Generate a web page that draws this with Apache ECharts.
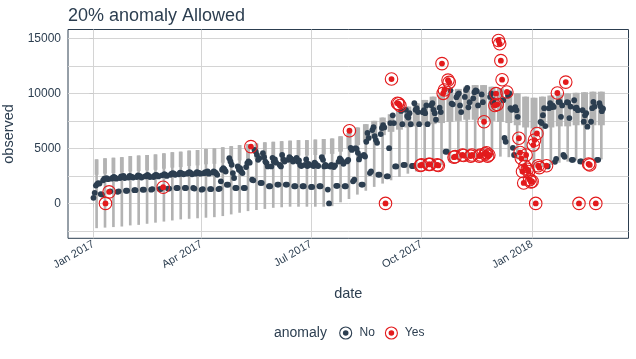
<!DOCTYPE html>
<html><head><meta charset="utf-8">
<script src="https://cdn.jsdelivr.net/npm/echarts@6/dist/echarts.min.js"></script>
<style>html,body{margin:0;padding:0;background:#fff}#c{width:636px;height:359px}</style>
</head><body><div id="c"></div>
<script>
// ---- data (daily observations, one row per week, Sun..Sat, starting 2017-01-01) ----
const startDate = '2017-01-01';
const observedByWeek = [
 [510, 960, 1620, 1760, 1850, 1800, 850],
 [800, 2100, 2250, 0, 2300, 2200, 1050],
 [1100, 2250, 2350, 2400, 2350, 2250, 1050],
 [1100, 2300, 2450, 2400, 2500, 2300, 1150],
 [1150, 2350, 2500, 2450, 2400, 2350, 1200],
 [1200, 2400, 2550, 2500, 2450, 2350, 1250],
 [1250, 2450, 2500, 2600, 2500, 2400, 1250],
 [1300, 2400, 2550, 2600, 2550, 2450, 1300],
 [1300, 2550, 1470, 2650, 2600, 2500, 1350],
 [1350, 2600, 2700, 2750, 2700, 2600, 1400],
 [1400, 2650, 2800, 2750, 2700, 2650, 1400],
 [1400, 2700, 2800, 2850, 2750, 2650, 1400],
 [1350, 2700, 2850, 2800, 2750, 2700, 1250],
 [1300, 2750, 2850, 2800, 2900, 2700, 1300],
 [1300, 2800, 2900, 2850, 2750, 2600, 1300],
 [1350, 2010, 3060, 3210, 3100, 2900, 1700],
 [1700, 4110, 3810, 3510, 2760, 2310, 1400],
 [1400, 3360, 3060, 3210, 2910, 2760, 1400],
 [1400, 3300, 3660, 3810, 3700, 5160, 2160],
 [2100, 4860, 4710, 4410, 3960, 4110, 1860],
 [1860, 4560, 4200, 3800, 3660, 3360, 1560],
 [1560, 3360, 4140, 3800, 4000, 3700, 1710],
 [1710, 3500, 3360, 4400, 4000, 3800, 1710],
 [1710, 3960, 4200, 4100, 4000, 3800, 1560],
 [1560, 4140, 3800, 3900, 3500, 3400, 1560],
 [1560, 3500, 4000, 3400, 3600, 3500, 1500],
 [1500, 3400, 3700, 3600, 3450, 3400, 1560],
 [1560, 4200, 3960, 3360, 3500, 3400, 1260],
 [0, 3350, 3500, 3400, 3300, 3450, 1600],
 [1600, 3800, 4100, 3950, 3800, 3600, 1560],
 [1560, 3810, 3950, 6600, 5040, 4860, 2010],
 [2160, 5020, 4950, 4600, 4000, 4300, 1710],
 [1710, 4400, 4260, 5600, 6400, 5950, 2760],
 [2910, 6660, 6930, 6100, 5750, 5500, 2610],
 [2610, 6300, 6850, 7110, 6900, 0, 2460],
 [2460, 5020, 7300, 11300, 8000, 7300, 3360],
 [3360, 9100, 9050, 8900, 8400, 7200, 3500],
 [3500, 8500, 7950, 7800, 8200, 7200, 3400],
 [3400, 9100, 8500, 8650, 8300, 7200, 3450],
 [3500, 8290, 8470, 8200, 8900, 7200, 3550],
 [3550, 8920, 9100, 8500, 8200, 7600, 3500],
 [3450, 8700, 8300, 12700, 10000, 10300, 4700],
 [4700, 11200, 11000, 10270, 9070, 9000, 4200],
 [4250, 9650, 9850, 10000, 8900, 8300, 4400],
 [4350, 9670, 10300, 10500, 8730, 9200, 4300],
 [4400, 9550, 10100, 10270, 10200, 8900, 4300],
 [4400, 9900, 9200, 7420, 4500, 4600, 4300],
 [4400, 9670, 10000, 9200, 9370, 8900, 9970],
 [9000, 14800, 14500, 12970, 11240, 9370, 5950],
 [5600, 10120, 9800, 10000, 8650, 8500, 5050],
 [4400, 8750, 8470, 7870, 5920, 4620, 4100],
 [2900, 1860, 3360, 4400, 3100, 2900, 2160],
 [1950, 2000, 5300, 5750, 0, 6350, 3420],
 [3250, 7400, 7300, 8020, 8650, 7030, 3420],
 [3360, 8650, 9100, 8740, 8900, 8770, 3780],
 [4050, 10030, 9220, 9220, 7870, 8900, 4400],
 [4240, 11020, 9200, 9150, 7750, 8800, 3960],
 [3960, 9370, 8650, 8700, 8470, 0, 3810],
 [3810, 8470, 7420, 8000, 8200, 6970, 3580],
 [3500, 7420, 8650, 9220, 8800, 0, 3960],
 [3960, 9100, 8800, 8380, 8600]
];
// day indices (days since 2017-01-01) flagged as anomalies
const anomalyDays = [10, 13, 58, 131, 213, 243, 248, 253, 254, 255, 272, 273, 279, 280, 286,
 287, 290, 291, 292, 295, 296, 300, 301, 307, 308, 314, 315, 321, 322, 325, 326, 327, 328,
 329, 334, 335, 336, 337, 338, 339, 340, 344, 354, 355, 356, 357, 358, 359, 360, 361, 362, 363,
 364, 365, 366, 367, 368, 369, 370, 371, 377, 386, 393, 404, 412, 413, 418];
// recomposed band (weekly): top, shoulder and bottom of the grey ribbon
const bandTop = [4000,4100,4150,4200,4300,4350,4400,4450,4550,4650, 4700,4800,4850,4950,5000,5100,5200,5300,5400,5450,
 5550,5600,5650,5700,5750,5750,5800,5850,5900,6100, 6400,6900,7200,7500,7800,8100,8500,8800,9100,9400,
 9700,9900,10100,10400,10600,10750,10750,10600,10450,10250, 10000,9700,9600,9700,9800,9900,10000,10050,10100,10150, 10150];
const bandShoulder = [2600,2700,2750,2800,2900,2950,3000,3050,3150,3250, 3300,3400,3450,3550,3600,3700,3800,3900,4000,4050,
 4150,4200,4250,4300,4350,4350,4400,4450,4500, 4700,5000,5300,5600,5900,6200,6500,6700,6900,7000,
 7100,7200,7300,7400,7500,7600,7600,7600,7500,7400, 7300,7100,6900,6800,6800,6900,7000,7000,7100,7100, 7100,7100];
const bandBottom = [-2250,-2200,-2150,-2100,-2000,-1950,-1850,-1750,-1650,-1550, -1450,-1400,-1350,-1300,-1250,-1150,-1000,-850,-700,-600,
 -500,-400,-350,-300,-300,-300,-300,-300,-250,100, 400,800,1150,1500,1800,2100,2400,2700,2900,3100,
 3300,3500,3700,3900,4100,4200,4250,4250,4250,4200, 4000,3600,3200,3300,3500,3700,3800,3900,3950,4000, 4000];
const xTickDates = ['2017-01-01','2017-04-01','2017-07-01','2017-10-01','2018-01-01'];
const xTickLabels = ['Jan 2017','Apr 2017','Jul 2017','Oct 2017','Jan 2018'];
const yTicks = [0, 5000, 10000, 15000];
const yGridValues = [-2500, 0, 2500, 5000, 7500, 10000, 12500, 15000];

// ---- build ----
const DAY = 86400000;
const t0 = Date.parse(startDate + 'T00:00:00Z');
const dayOf = s => Math.round((Date.parse(s + 'T00:00:00Z') - t0) / DAY);
const xTickDays = xTickDates.map(dayOf);
const labelByDay = {}; xTickDays.forEach((d, i) => labelByDay[d] = xTickLabels[i]);
const anomSet = new Set(anomalyDays);
const normalPts = [], anomPts = [];
observedByWeek.forEach((row, w) => row.forEach((v, i) => {
  const d = w * 7 + i;
  (anomSet.has(d) ? anomPts : normalPts).push([d, v]);
}));
const bandData = bandTop.map((t, w) => [w * 7 + 2.6, t, bandShoulder[w], bandBottom[w], w]);
const nDays = observedByWeek.reduce((a, r) => a + r.length, 0) - 1;
const pad = nDays * 0.05;

const DARK = '#2c3e50', RED = '#e31a1c', GRID = '#d4d4d4', FONT = 'Liberation Sans, Arial, sans-serif';

function renderBand(params, api) {
  const c = api.value(0), top = api.value(1), sh = api.value(2), bot = api.value(3), w = api.value(4);
  const stem = 1.1;
  const f = Math.max(0, Math.min(1, (w - 26) / 10));
  const half = 1.6 + 1.3 * f;
  const a = api.coord([c - stem, top]), b = api.coord([c + stem, bot]);
  const d = api.coord([c - half, top]), e = api.coord([c + half, sh]);
  return { type: 'group', children: [
    { type: 'rect', shape: { x: a[0], y: a[1], width: b[0] - a[0], height: b[1] - a[1] }, style: { fill: '#b3b3b3' } },
    { type: 'rect', shape: { x: d[0], y: d[1], width: e[0] - d[0], height: e[1] - d[1] }, style: { fill: '#b3b3b3' } }
  ]};
}

const chart = echarts.init(document.getElementById('c'), null, { renderer: 'canvas' });
chart.setOption({
  animation: false,
  backgroundColor: '#fff',
  textStyle: { fontFamily: FONT },
  grid: { left: 68, right: 7.5, top: 29.5, bottom: 120.7, show: true, borderColor: DARK, borderWidth: 1,
    backgroundColor: 'transparent', containLabel: false, outerBoundsMode: 'none' },
  xAxis: {
    type: 'value', min: -pad, max: nDays + pad,
    name: 'date', nameLocation: 'middle', nameGap: 48,
    nameTextStyle: { color: DARK, fontSize: 14.5, fontFamily: FONT },
    axisLine: { show: false },
    splitLine: { show: false },
    axisTick: { show: true, customValues: xTickDays, length: 4, lineStyle: { color: '#c8c8c8' } },
    axisLabel: { customValues: xTickDays, rotate: 30, margin: 5, color: DARK, fontSize: 11, fontFamily: FONT,
      formatter: v => labelByDay[Math.round(v)] || '' }
  },
  yAxis: {
    type: 'value', min: -3170, max: 15800,
    name: 'observed', nameLocation: 'middle', nameGap: 44,
    nameTextStyle: { color: DARK, fontSize: 14.5, fontFamily: FONT },
    axisLine: { show: false },
    splitLine: { show: false },
    axisTick: { show: true, customValues: yTicks, length: 4, lineStyle: { color: '#c8c8c8' } },
    axisLabel: { customValues: yTicks, margin: 7, color: DARK, fontSize: 12, fontFamily: FONT,
      formatter: v => String(v) }
  },
  series: [
    { type: 'custom', name: 'band', renderItem: renderBand, data: bandData, z: 1, silent: true,
      encode: { x: 0, y: [1, 3] },
      markLine: { silent: true, symbol: 'none', z: 0, label: { show: false },
        lineStyle: { color: GRID, width: 1, type: 'solid' }, emphasis: { disabled: true },
        data: yGridValues.map(v => ({ yAxis: v })).concat(xTickDays.map(d => ({ xAxis: d }))) } },
    { type: 'scatter', name: 'No', data: normalPts, symbol: 'circle', symbolSize: 5.8, z: 2, silent: true,
      itemStyle: { color: DARK, opacity: 1 } },
    { type: 'scatter', name: 'ring', data: anomPts, symbol: 'circle', symbolSize: 12.5, z: 3, silent: true,
      itemStyle: { color: 'rgba(0,0,0,0)', borderColor: RED, borderWidth: 1.1, opacity: 1 } },
    { type: 'scatter', name: 'Yes', data: anomPts, symbol: 'circle', symbolSize: 5.8, z: 4, silent: true,
      itemStyle: { color: RED, opacity: 1 } }
  ],
  graphic: [
    { type: 'text', left: 68, top: 7, style: { text: '20% anomaly Allowed', fill: DARK, font: '18px ' + FONT } },
    { type: 'text', x: 274, y: 333, style: { text: 'anomaly', fill: DARK, font: '14px ' + FONT, verticalAlign: 'middle' } },
    { type: 'circle', shape: { cx: 345.7, cy: 333, r: 6 }, style: { fill: 'none', stroke: DARK, lineWidth: 1.1 } },
    { type: 'circle', shape: { cx: 345.7, cy: 333, r: 2.8 }, style: { fill: DARK } },
    { type: 'text', x: 359.5, y: 333, style: { text: 'No', fill: DARK, font: '12px ' + FONT, verticalAlign: 'middle' } },
    { type: 'circle', shape: { cx: 391.4, cy: 333, r: 6 }, style: { fill: 'none', stroke: RED, lineWidth: 1.1 } },
    { type: 'circle', shape: { cx: 391.4, cy: 333, r: 2.8 }, style: { fill: RED } },
    { type: 'text', x: 404.8, y: 333, style: { text: 'Yes', fill: DARK, font: '12px ' + FONT, verticalAlign: 'middle' } }
  ]
});
</script></body></html>
